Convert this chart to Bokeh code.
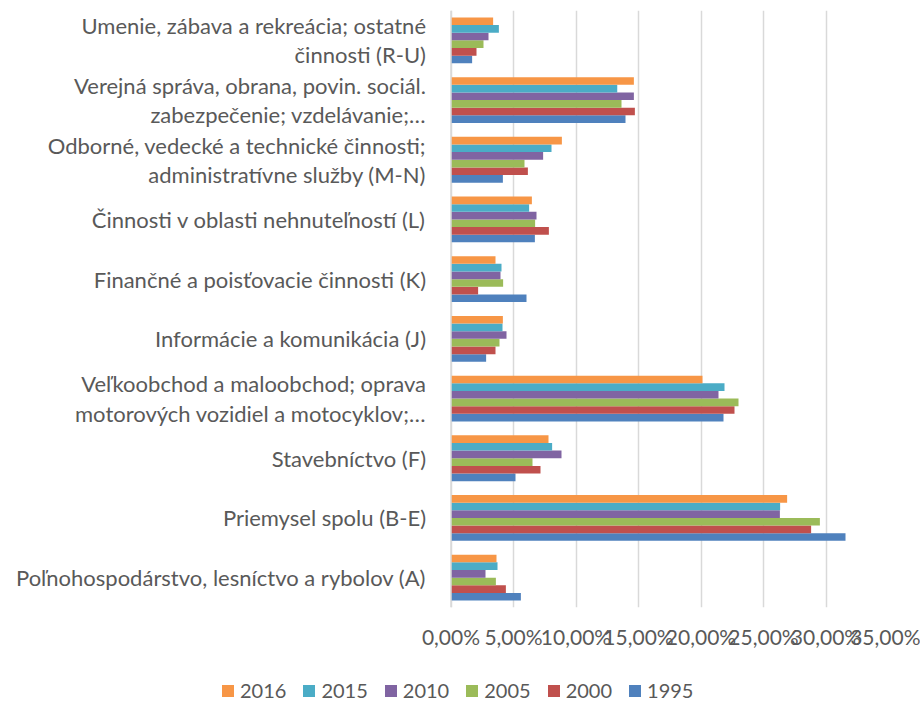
from bokeh.plotting import figure
from bokeh.layouts import column
from bokeh.models import FactorRange, Range1d, FixedTicker, Legend, LegendItem, ColumnDataSource, Span
from bokeh.transform import dodge
from bokeh.core.properties import value
from bokeh.embed import file_html
from bokeh.resources import INLINE

# categories, bottom to top
categories = [
    "Poľnohospodárstvo, lesníctvo a rybolov (A)",
    "Priemysel spolu (B-E)",
    "Stavebníctvo (F)",
    "Veľkoobchod a maloobchod; oprava\nmotorových vozidiel a motocyklov;…",
    "Informácie a komunikácia (J)",
    "Finančné a poisťovacie činnosti (K)",
    "Činnosti v oblasti nehnuteľností (L)",
    "Odborné, vedecké a technické činnosti;\nadministratívne služby (M-N)",
    "Verejná správa, obrana, povin. sociál.\nzabezpečenie; vzdelávanie;…",
    "Umenie, zábava a rekreácia; ostatné\nčinnosti (R-U)",
]

years = ["1995", "2000", "2005", "2010", "2015", "2016"]

v1995 = [5.59, 31.56, 5.16, 21.80, 2.81, 6.04, 6.71, 4.15, 13.96, 1.69]
v2000 = [4.39, 28.81, 7.16, 22.68, 3.56, 2.17, 7.83, 6.15, 14.71, 2.04]
v2005 = [3.59, 29.51, 6.52, 23.00, 3.88, 4.17, 6.73, 5.88, 13.64, 2.60]
v2010 = [2.76, 26.31, 8.84, 21.40, 4.44, 3.96, 6.84, 7.37, 14.63, 3.00]
v2015 = [3.72, 26.33, 8.09, 21.88, 4.12, 4.04, 6.25, 8.04, 13.30, 3.83]
v2016 = [3.64, 26.89, 7.80, 20.12, 4.15, 3.56, 6.47, 8.87, 14.63, 3.37]

tick_values = [0, 5, 10, 15, 20, 25, 30, 35]
tick_labels = ["0,00%", "5,00%", "10,00%", "15,00%", "20,00%", "25,00%", "30,00%", "35,00%"]

colors = ["#4F81BD", "#C0504D", "#9BBB59", "#8064A2", "#4BACC6", "#F79646"]

FONT = "Lato"
TXT = "#595959"
W = 920

source = ColumnDataSource(dict(cat=categories, v1995=v1995, v2000=v2000, v2005=v2005,
                               v2010=v2010, v2015=v2015, v2016=v2016))

# frame spans from the figure's left edge; the label area lies at negative x
p = figure(width=W, height=658, output_backend="svg", toolbar_location=None,
           y_range=FactorRange(factors=categories, range_padding=0),
           x_range=Range1d(-36.04, 35),
           min_border_left=0, min_border_right=W - 888, min_border_top=10, min_border_bottom=51)

bar_h = 0.128
renderers = []
for k, yr in enumerate(years):
    off = (k - 2.5) * bar_h
    r = p.hbar(y=dodge("cat", off, range=p.y_range), left=0, right="v" + yr, height=bar_h,
               source=source, fill_color=colors[k], line_color=None)
    renderers.append(r)

# category labels
p.text(x=-2.0, y="cat", text="cat", source=source, text_align="right", text_baseline="middle",
       text_font=value(FONT), text_font_size="22px", text_color=TXT, text_line_height=1.08)

# vertical axis line at 0
p.add_layout(Span(location=0, dimension="height", line_color="#d9d9d9", line_width=1.5))

p.outline_line_color = None
p.yaxis.visible = False
p.ygrid.grid_line_color = None
p.xgrid.ticker = FixedTicker(ticks=tick_values)
p.xgrid.grid_line_color = "#d9d9d9"
p.xgrid.grid_line_width = 1.5
p.xgrid.level = "underlay"

xa = p.xaxis[0]
xa.ticker = FixedTicker(ticks=tick_values)
xa.major_label_overrides = {float(v): l for v, l in zip(tick_values, tick_labels)}
xa.axis_line_color = None
xa.major_tick_line_color = None
xa.major_tick_out = 0
xa.minor_tick_line_color = None
xa.major_label_text_font = FONT
xa.major_label_text_font_size = "21px"
xa.major_label_text_color = TXT
xa.major_label_standoff = 16

# legend strip below the chart (proxy glyphs sit outside the visible range)
pl = figure(width=W, height=44, output_backend="svg", toolbar_location=None,
            x_range=Range1d(0, 1), y_range=Range1d(0, 1),
            min_border_left=0, min_border_right=0, min_border_top=0, min_border_bottom=0)
pl.axis.visible = False
pl.grid.visible = False
pl.outline_line_color = None
leg_r = []
for k, yr in enumerate(years):
    leg_r.append(pl.rect(x=[-5], y=[-5], width=0.1, height=0.1, fill_color=colors[k], line_color=None))

items = [LegendItem(label=yr, renderers=[leg_r[k]]) for k, yr in reversed(list(enumerate(years)))]
legend = Legend(items=items, orientation="horizontal", location=(220, 0),
                label_text_font=FONT, label_text_font_size="20px", label_text_color=TXT,
                glyph_width=15, glyph_height=15, label_standoff=5, spacing=15,
                border_line_color=None, background_fill_alpha=0, padding=0, margin=0)
pl.add_layout(legend, "center")

layout = column(p, pl, spacing=0)
open("out.html", "w").write(file_html(layout, INLINE))
